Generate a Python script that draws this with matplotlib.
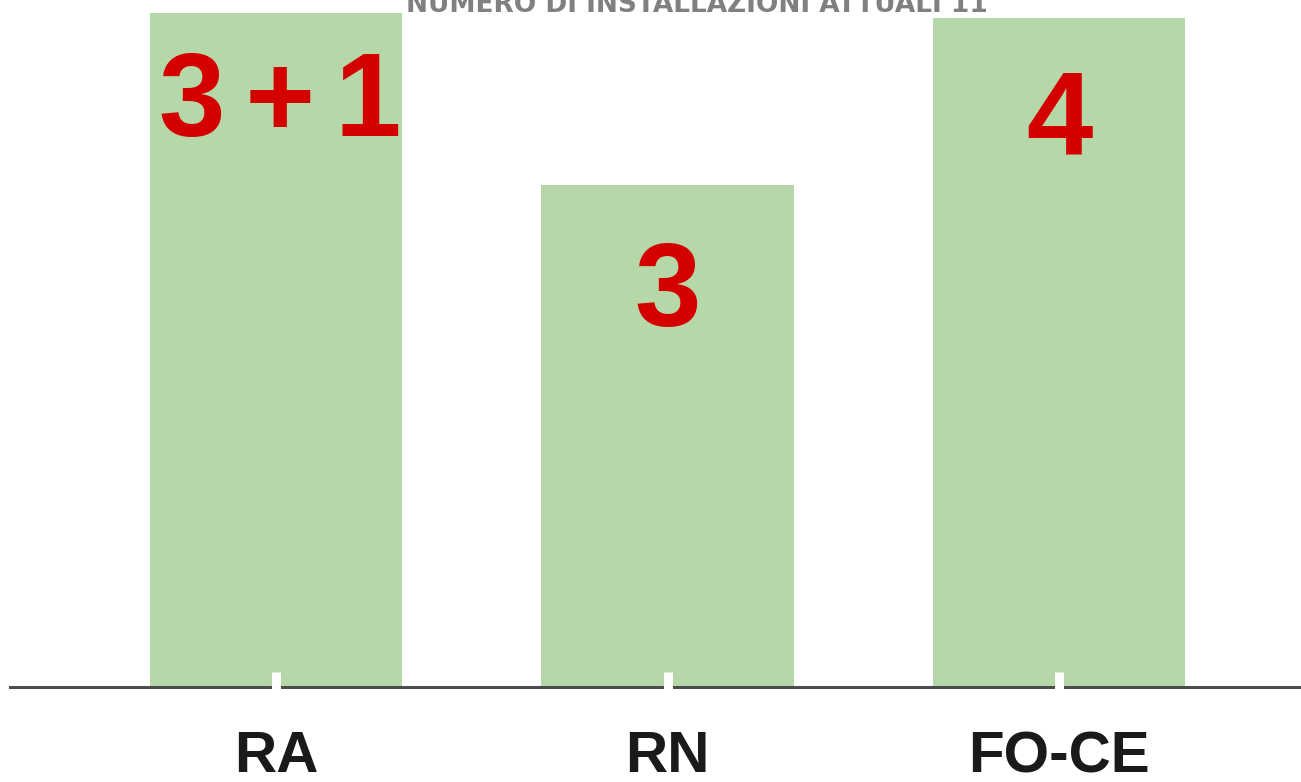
import matplotlib
matplotlib.use("Agg")
import matplotlib.pyplot as plt

# data
categories = ["RA", "RN", "FO-CE"]
base_values = [3, 3, 4]
extra_values = [1.03, 0, 0]
bar_labels = ["3\u2006+\u20061", "3", "4"]
label_baseline_y = [3.295, 2.158, 3.180]
title = "NUMERO DI INSTALLAZIONI ATTUALI 11"

W, H = 1301, 782
fig = plt.figure(figsize=(W / 100, H / 100), dpi=100)
ax = fig.add_axes([10 / W, (H - 687) / H, (W - 10) / W, 687 / H])

green = "#b6d7a8"
x = list(range(len(categories)))
ax.bar(x, base_values, width=0.645, color=green, zorder=1)
ax.bar(x, extra_values, bottom=base_values, width=0.645, color=green, zorder=1)

for xi, lab, yy in zip(x, bar_labels, label_baseline_y):
    ax.text(xi + (0.01 if len(lab) > 1 else 0), yy, lab, ha="center", va="baseline",
            color="#d40000", fontsize=86, fontweight="bold",
            family=["Liberation Sans", "DejaVu Sans"], zorder=3)

px_per_unit = 391.5
ax.set_xlim(-266 / px_per_unit, 2 + 242 / px_per_unit)
ax.set_ylim(0, 687 / 167.3)

for s in ["top", "right", "left", "bottom"]:
    ax.spines[s].set_visible(False)
ax.axhline(0, color="#4d4d4d", lw=2.2, zorder=2, clip_on=False)
# white tick notches crossing the baseline
ax.vlines(x, -0.02, 0.09, colors="white", linewidth=6.5, zorder=6, clip_on=False)
ax.set_yticks([])
ax.set_xticks(x)
ax.set_xticklabels(categories, fontsize=42, fontweight="bold",
                   family="Liberation Sans", color="#1a1a1a")
ax.tick_params(axis="x", length=0, pad=31)
ax.patch.set_alpha(0)

fig.text(697 / W, 1 - 12 / H, title, ha="center", va="baseline",
         fontsize=19, fontweight="bold", color="#808080", family="DejaVu Sans")

fig.savefig("out.png", dpi=100, facecolor="white")
